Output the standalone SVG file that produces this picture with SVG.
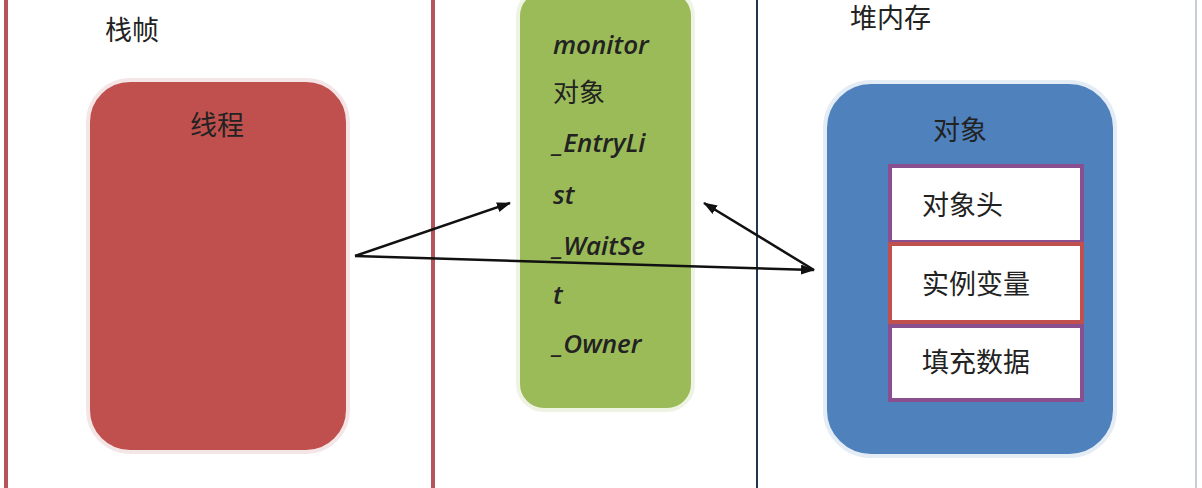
<svg xmlns="http://www.w3.org/2000/svg" width="1202" height="488" viewBox="0 0 1202 488">
<defs>
<marker id="ah" markerWidth="14" markerHeight="10" refX="13" refY="5" orient="auto" markerUnits="userSpaceOnUse"><path d="M0,0 L14,5 L0,10 z" fill="#111"/></marker>
<style>
.cn{font-family:"Noto Sans CJK SC","Liberation Sans",sans-serif;font-size:27px;fill:#222}
.it{font-family:"Open Sans","Liberation Sans",sans-serif;font-style:italic;font-weight:600;font-size:26px;fill:#222}
.ln{stroke:#111;stroke-width:2.5;fill:none;marker-end:url(#ah)}
</style>
</defs>
<rect width="1202" height="488" fill="#fff"/>
<g id="stack-frame">
<line x1="6" y1="0" x2="6" y2="488" stroke="#b5545a" stroke-width="4"/>
<line x1="433" y1="0" x2="433" y2="488" stroke="#b5545a" stroke-width="4"/>
<text class="cn" x="105" y="40">栈帧</text>
</g>
<g id="thread">
<rect x="88" y="80" width="260" height="372" rx="42" fill="#c0504d" stroke="#f4e6e6" stroke-width="4"/>
<text class="cn" x="190" y="135" fill="#3a1010">线程</text>
</g>
<g id="monitor">
<rect x="518" y="-10" width="175" height="420" rx="26" fill="#9bbb59" stroke="#eef3e4" stroke-width="4"/>
<text class="it" x="553" y="54">monitor</text>
<text class="cn" x="553" y="102" style="font-size:26px">对象</text>
<text class="it" x="553" y="152">_EntryLi</text>
<text class="it" x="553" y="204">st</text>
<text class="it" x="553" y="255">_WaitSe</text>
<text class="it" x="553" y="304">t</text>
<text class="it" x="553" y="353">_Owner</text>
</g>
<g id="heap">
<line x1="757" y1="0" x2="757" y2="488" stroke="#23344e" stroke-width="2"/>
<line x1="1196" y1="0" x2="1196" y2="488" stroke="#c8ccd6" stroke-width="2"/>
<text class="cn" x="850" y="28">堆内存</text>
</g>
<g id="object">
<rect x="825" y="82" width="290" height="374" rx="46" fill="#4f81bd" stroke="#e4ecf6" stroke-width="4"/>
<text class="cn" x="933" y="140" fill="#1f3a66">对象</text>
<rect x="890" y="166" width="192" height="76" fill="#fff" stroke="#8a4f8f" stroke-width="4"/>
<text class="cn" x="922" y="215">对象头</text>
<rect x="890" y="244" width="192" height="78" fill="#fff" stroke="#c0504d" stroke-width="4"/>
<text class="cn" x="922" y="294">实例变量</text>
<rect x="890" y="326" width="192" height="74" fill="#fff" stroke="#8a4f8f" stroke-width="4"/>
<text class="cn" x="922" y="372">填充数据</text>
</g>
<g id="connectors">
<line class="ln" x1="355" y1="256" x2="510" y2="203"/>
<line class="ln" x1="355" y1="256" x2="814" y2="270"/>
<line class="ln" x1="814" y1="270" x2="704" y2="203"/>
</g>
</svg>
